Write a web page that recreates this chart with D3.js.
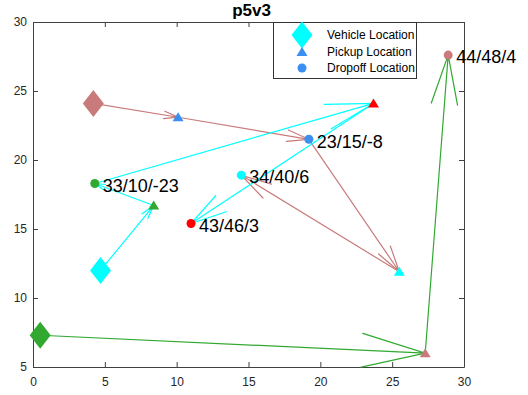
<!DOCTYPE html>
<html>
<head>
<meta charset="utf-8">
<script src="https://cdn.jsdelivr.net/npm/d3@7"></script>
<style>
  html, body { margin: 0; padding: 0; background: #fff; }
  svg { display: block; font-family: "Liberation Sans", Arial, Helvetica, sans-serif; }
</style>
</head>
<body>
<svg id="chart" width="528" height="395"></svg>
<script>
// ---------------- data ----------------
const title = "p5v3";
const xTicks = [0, 5, 10, 15, 20, 25, 30];
const yTicks = [5, 10, 15, 20, 25, 30];

// requests (pickup / dropoff)
const pickupX  = [10.1, 25.5, 8.4, 23.7, 27.3];
const pickupY  = [23.1, 11.9, 16.7, 24.1, 6.0];
const dropoffX = [19.2, 14.5, 4.3, 11.0, 28.9];
const dropoffY = [21.5, 18.9, 18.3, 15.4, 27.6];
const dropoffLabels = ["23/15/-8", "34/40/6", "33/10/-23", "43/46/3", "44/48/4"];

// vehicles
const vehicleX = [4.2, 4.7, 0.5];
const vehicleY = [24.1, 12.0, 7.3];

// routes: sequence of stops for each vehicle ("p" = pickup, "d" = dropoff, request index)
const routes = [
  [["p", 0], ["d", 0], ["p", 1], ["d", 1]],
  [["p", 2], ["d", 2], ["p", 3], ["d", 3]],
  [["p", 4], ["d", 4]]
];

const legendLabels = ["Vehicle Location", "Pickup Location", "Dropoff Location"];

// ---------------- styles ----------------
const requestColors = ["#3a8ff0", "#00ffff", "#31a931", "#ff0000", "#c97b7b"];
const vehicleColors = ["#c97b7b", "#00ffff", "#31a931"];

// ---------------- layout ----------------
const svg = d3.select("#chart");
const mLeft = 33, mRight = 464, mTop = 22, mBottom = 367;
const x = d3.scaleLinear().domain([0, 30]).range([mLeft, mRight]);
const y = d3.scaleLinear().domain([5, 30]).range([mBottom, mTop]);
const axisColor = "#404040";

// axes
function styleAxis(g) {
  g.selectAll("path.domain").attr("stroke", axisColor).attr("stroke-width", 1);
  g.selectAll(".tick line").attr("stroke", axisColor);
  g.selectAll(".tick text").attr("fill", "#262626").attr("font-size", 12)
    .attr("font-family", "'Liberation Sans', Arial, sans-serif");
}
svg.append("g").attr("transform", `translate(0,${mBottom})`)
  .call(d3.axisBottom(x).tickValues(xTicks).tickSize(-5).tickSizeOuter(0).tickPadding(10))
  .call(styleAxis);
svg.append("g").attr("transform", `translate(0,${mTop})`)
  .call(d3.axisTop(x).tickValues(xTicks).tickSize(-5).tickSizeOuter(0).tickFormat(""))
  .call(styleAxis);
svg.append("g").attr("transform", `translate(${mLeft},0)`)
  .call(d3.axisLeft(y).tickValues(yTicks).tickSize(-5).tickSizeOuter(0).tickPadding(6))
  .call(styleAxis);
svg.append("g").attr("transform", `translate(${mRight},0)`)
  .call(d3.axisRight(y).tickValues(yTicks).tickSize(-5).tickSizeOuter(0).tickFormat(""))
  .call(styleAxis);

// title
svg.append("text").attr("x", (mLeft + mRight) / 2 + 3).attr("y", 16)
  .attr("text-anchor", "middle").attr("font-weight", "bold").attr("font-size", 17)
  .attr("fill", "#000").text(title);

// helpers
function stopPos(s) {
  return s[0] === "p" ? [pickupX[s[1]], pickupY[s[1]]] : [dropoffX[s[1]], dropoffY[s[1]]];
}
const arrows = svg.append("g").attr("fill", "none").attr("stroke-width", 1.2)
  .attr("stroke-linecap", "round");
function drawArrow(p0, p1, color) {
  const x1 = x(p0[0]), y1 = y(p0[1]), x2 = x(p1[0]), y2 = y(p1[1]);
  const dx = x1 - x2, dy = y1 - y2;
  const L = Math.hypot(dx, dy);
  const hl = 0.17 * L, ang = 15 * Math.PI / 180;
  const base = Math.atan2(dy, dx);
  const w1 = [x2 + hl * Math.cos(base + ang), y2 + hl * Math.sin(base + ang)];
  const w2 = [x2 + hl * Math.cos(base - ang), y2 + hl * Math.sin(base - ang)];
  arrows.append("path")
    .attr("d", `M${x1},${y1}L${x2},${y2}M${w1[0]},${w1[1]}L${x2},${y2}L${w2[0]},${w2[1]}`)
    .attr("stroke", color);
}

routes.forEach((route, vi) => {
  let prev = [vehicleX[vi], vehicleY[vi]];
  route.forEach(s => {
    const p = stopPos(s);
    drawArrow(prev, p, vehicleColors[vi]);
    prev = p;
  });
});

// markers
const diamond = (cx, cy, w, h) => `M${cx},${cy - h}L${cx + w},${cy}L${cx},${cy + h}L${cx - w},${cy}Z`;
const triangle = (cx, cy) => `M${cx},${cy - 5}L${cx + 5.5},${cy + 4}L${cx - 5.5},${cy + 4}Z`;

const markers = svg.append("g");
markers.selectAll("path.veh").data(vehicleX).join("path").attr("class", "veh")
  .attr("d", (d, i) => diamond(x(d), y(vehicleY[i]), 10.5, 13.5))
  .attr("fill", (d, i) => vehicleColors[i]);
markers.selectAll("path.pick").data(pickupX).join("path").attr("class", "pick")
  .attr("d", (d, i) => triangle(x(d), y(pickupY[i])))
  .attr("fill", (d, i) => requestColors[i]);
markers.selectAll("circle.drop").data(dropoffX).join("circle").attr("class", "drop")
  .attr("cx", d => x(d)).attr("cy", (d, i) => y(dropoffY[i])).attr("r", 4.5)
  .attr("fill", (d, i) => requestColors[i]);

// dropoff labels
svg.append("g").selectAll("text").data(dropoffLabels).join("text")
  .attr("x", (d, i) => x(dropoffX[i]) + 8)
  .attr("y", (d, i) => y(dropoffY[i]) + 2)
  .attr("dy", "0.35em").attr("font-size", 18).attr("fill", "#000")
  .text(d => d);

// legend
const lg = svg.append("g");
lg.append("rect").attr("x", 273.5).attr("y", 22.5).attr("width", 143).attr("height", 56)
  .attr("fill", "#fff").attr("stroke", "#333").attr("stroke-width", 1);
const legendY = [35, 52, 68];
lg.append("path").attr("d", diamond(302, legendY[0], 10.5, 13.5)).attr("fill", "#00ffff");
lg.append("path").attr("d", triangle(302, legendY[1])).attr("fill", requestColors[0]);
lg.append("circle").attr("cx", 302).attr("cy", legendY[2]).attr("r", 4.5).attr("fill", requestColors[0]);
lg.selectAll("text").data(legendLabels).join("text")
  .attr("x", 327).attr("y", (d, i) => legendY[i]).attr("dy", "0.35em")
  .attr("font-size", 12).attr("fill", "#000").text(d => d);
</script>
</body>
</html>
